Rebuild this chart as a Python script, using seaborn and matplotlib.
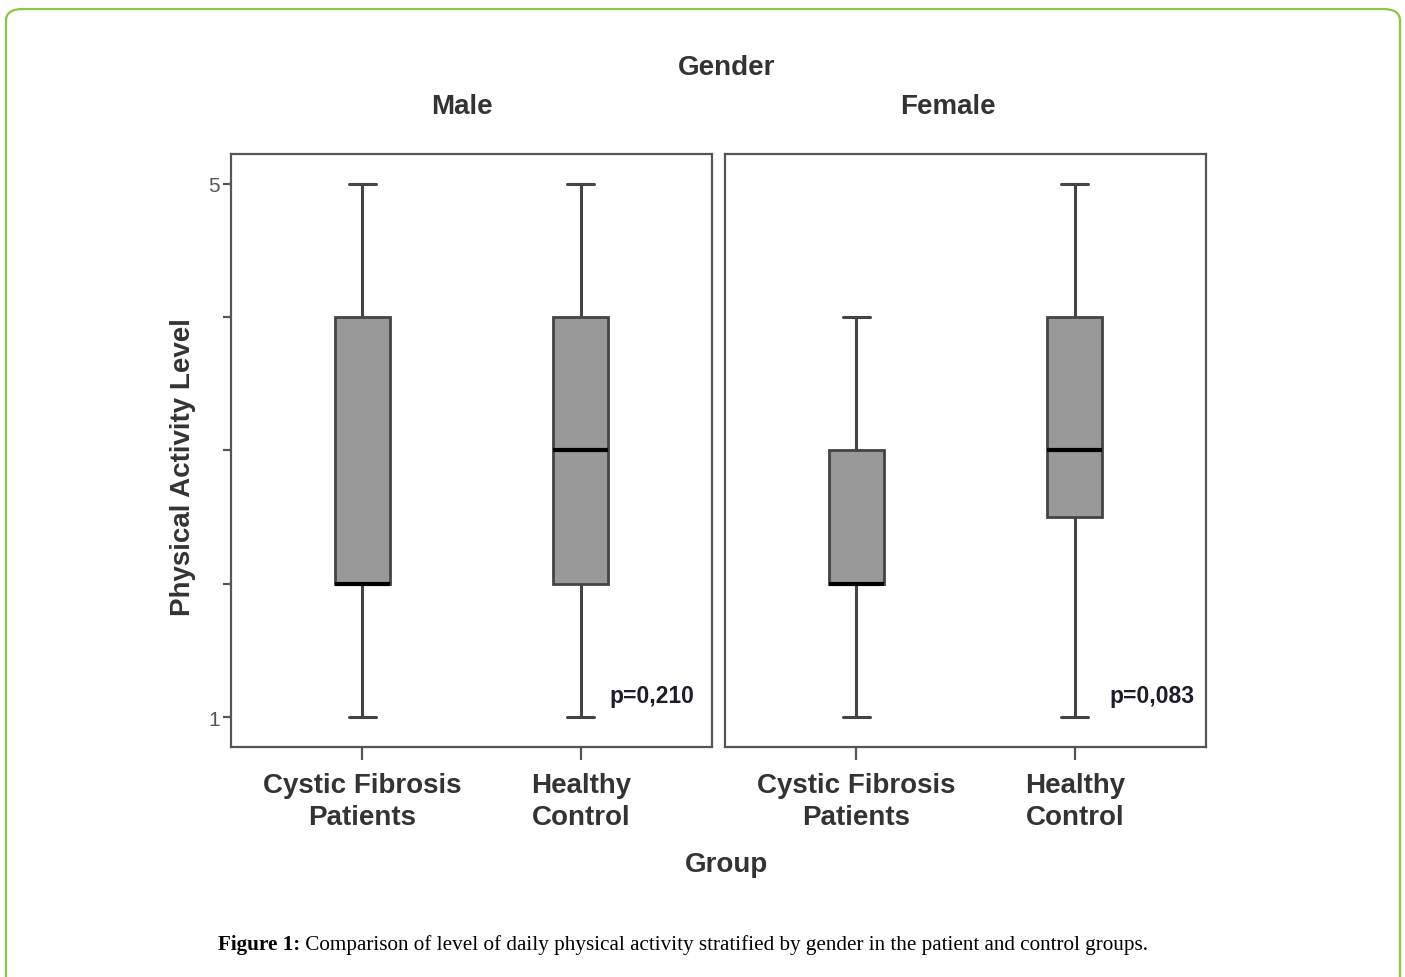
import numpy as np
import pandas as pd
import seaborn as sns
import matplotlib
matplotlib.use("Agg")
import matplotlib.pyplot as plt
from matplotlib.patches import FancyBboxPatch

# five-number summaries (min, Q1, median, Q3, max)
groups = ["Cystic Fibrosis\nPatients", "Healthy\nControl"]
male_cf = [1, 2, 2, 4, 5]
male_hc = [1, 2, 3, 4, 5]
female_cf = [1, 2, 2, 3, 4]
female_hc = [1, 2.5, 3, 4, 5]
p_values = ["p=0,210", "p=0,083"]
genders = ["Male", "Female"]

rows = []
for gender, vals in [("Male", [male_cf, male_hc]), ("Female", [female_cf, female_hc])]:
    for grp, v in zip(groups, vals):
        for x in v:
            rows.append({"Gender": gender, "Group": grp, "Level": x})
df = pd.DataFrame(rows)

sns.set_theme(style="white")
plt.rcParams["font.family"] = ["Liberation Sans", "DejaVu Sans"]

fig = plt.figure(figsize=(14.05, 9.78), dpi=100)
spine_col = "#555555"
text_col = "#333333"

# green rounded frame round the figure
frame = FancyBboxPatch((6 / 1405, -0.05), 1394 / 1405, 1.05 - 10 / 978,
                       boxstyle="round,pad=0,rounding_size=0.012",
                       transform=fig.transFigure, fill=False,
                       edgecolor="#8DC63F", linewidth=1.6, clip_on=False)
fig.patches.append(frame)

ax_w = 481 / 1405
bottom = 1 - 748 / 978
height = 593 / 978
lefts = [231 / 1405, 725 / 1405]

axes = []
for i, gender in enumerate(genders):
    ax = fig.add_axes([lefts[i], bottom, ax_w, height])
    sub = df[df["Gender"] == gender]
    sns.boxplot(data=sub, x="Group", y="Level", order=groups, ax=ax,
                whis=(0, 100), width=0.25, color="#999999", saturation=1,
                linecolor="#444444", linewidth=2, showfliers=False,
                medianprops={"color": "black", "linewidth": 3},
                whiskerprops={"linewidth": 2.2},
                capprops={"linewidth": 2.2})
    ax.set_xlim(-0.6, 1.6)
    ax.set_ylim(0.775, 5.225)
    ax.set_xlabel("")
    ax.set_ylabel("")
    for s in ax.spines.values():
        s.set_visible(True)
        s.set_color(spine_col)
        s.set_linewidth(1.6)
    ax.tick_params(axis="x", bottom=True, length=9, width=1.6, color=spine_col,
                   pad=9, labelsize=20, labelcolor=text_col)
    for lab in ax.get_xticklabels():
        lab.set_fontweight("bold")
        lab.set_multialignment("center")
        lab.set_linespacing(1.3)
    if i == 0:
        ax.set_yticks([1, 2, 3, 4, 5])
        ax.set_yticklabels(["1", "", "", "", "5"])
        ax.tick_params(axis="y", left=True, length=6, width=1.6, color=spine_col,
                       pad=2, labelsize=15, labelcolor="#555555")
    else:
        ax.set_yticks([])
    ax.text(1.133 if i == 0 else 1.16, 1.16, p_values[i], fontsize=16.5,
            fontweight="bold", color="#1c1c2e", ha="left", va="center",
            family=["Liberation Sans Narrow", "Liberation Sans"])
    axes.append(ax)

fig.text(727 / 1405, 1 - 68 / 978, "Gender", ha="center", va="center",
         fontsize=20, fontweight="bold", color=text_col)
fig.text(462 / 1405, 1 - 107 / 978, "Male", ha="center", va="center",
         fontsize=20, fontweight="bold", color=text_col)
fig.text(948 / 1405, 1 - 107 / 978, "Female", ha="center", va="center",
         fontsize=20, fontweight="bold", color=text_col)
fig.text(727 / 1405, 1 - 865 / 978, "Group", ha="center", va="center",
         fontsize=20, fontweight="bold", color=text_col)
fig.text(183 / 1405, 1 - 467 / 978, "Physical Activity Level", ha="center",
         va="center", rotation=90, fontsize=20, fontweight="bold", color=text_col)

# caption: bold lead-in, then the regular text placed right after it
serif = ["Liberation Serif", "DejaVu Serif"]
cap1 = fig.text(218 / 1405, 1 - 945 / 978, "Figure 1:", ha="left", va="center",
                fontsize=15.2, fontweight="bold", color="black", family=serif)
axes[0].annotate(" Comparison of level of daily physical activity stratified by gender in the patient and control groups.",
                 xy=(1, 0), xycoords=cap1, ha="left", va="bottom",
                 fontsize=15.2, color="black", annotation_clip=False,
                 family=serif)

fig.savefig("out.png", dpi=100)
